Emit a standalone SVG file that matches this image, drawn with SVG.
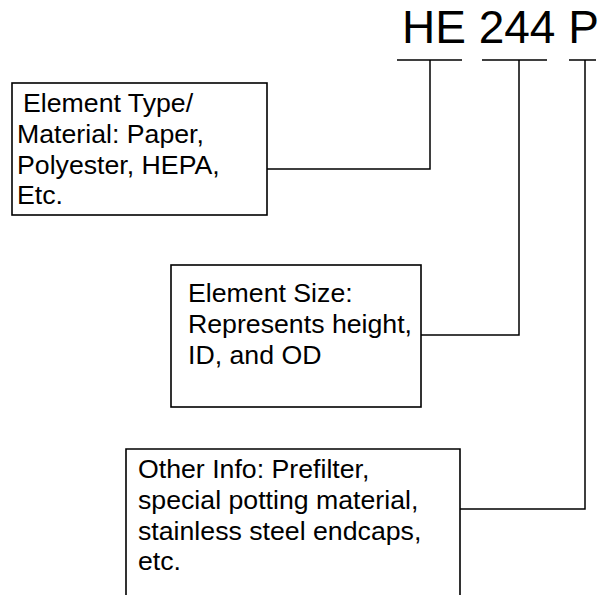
<svg xmlns="http://www.w3.org/2000/svg" width="598" height="595" viewBox="0 0 598 595">
<style>
.box{fill:#fff;stroke:#000;stroke-width:1.6}
.ln{fill:none;stroke:#000;stroke-width:1.5}
.t{font-family:"Liberation Sans",Arial,sans-serif;font-size:26.7px;fill:#000}
.title{font-family:"Liberation Sans",Arial,sans-serif;font-size:46px;fill:#000}
</style>
<rect width="598" height="595" fill="#fff"/>
<g id="title">
<text class="title" x="402" y="43">HE 244 P</text>
</g>
<g id="connectors">
<path class="ln" d="M397 60H462M482 60H547M569 60H596"/>
<path class="ln" d="M430 60V169H267"/>
<path class="ln" d="M519 60V335H421"/>
<path class="ln" d="M585 60V509H460"/>
</g>
<g id="node-type">
<rect class="box" x="12" y="83" width="255" height="132"/>
<text class="t"><tspan x="23" y="112">Element Type/</tspan><tspan x="17" y="143">Material: Paper,</tspan><tspan x="17" y="174">Polyester, HEPA,</tspan><tspan x="17" y="204">Etc.</tspan></text>
</g>
<g id="node-size">
<rect class="box" x="171" y="265" width="250" height="142"/>
<text class="t"><tspan x="188" y="302">Element Size:</tspan><tspan x="188" y="333">Represents height,</tspan><tspan x="188" y="364">ID, and OD</tspan></text>
</g>
<g id="node-other">
<path class="box" d="M126 600V449H460V600"/>
<text class="t"><tspan x="138" y="478">Other Info: Prefilter,</tspan><tspan x="138" y="509">special potting material,</tspan><tspan x="138" y="540">stainless steel endcaps,</tspan><tspan x="138" y="570">etc.</tspan></text>
</g>
</svg>
